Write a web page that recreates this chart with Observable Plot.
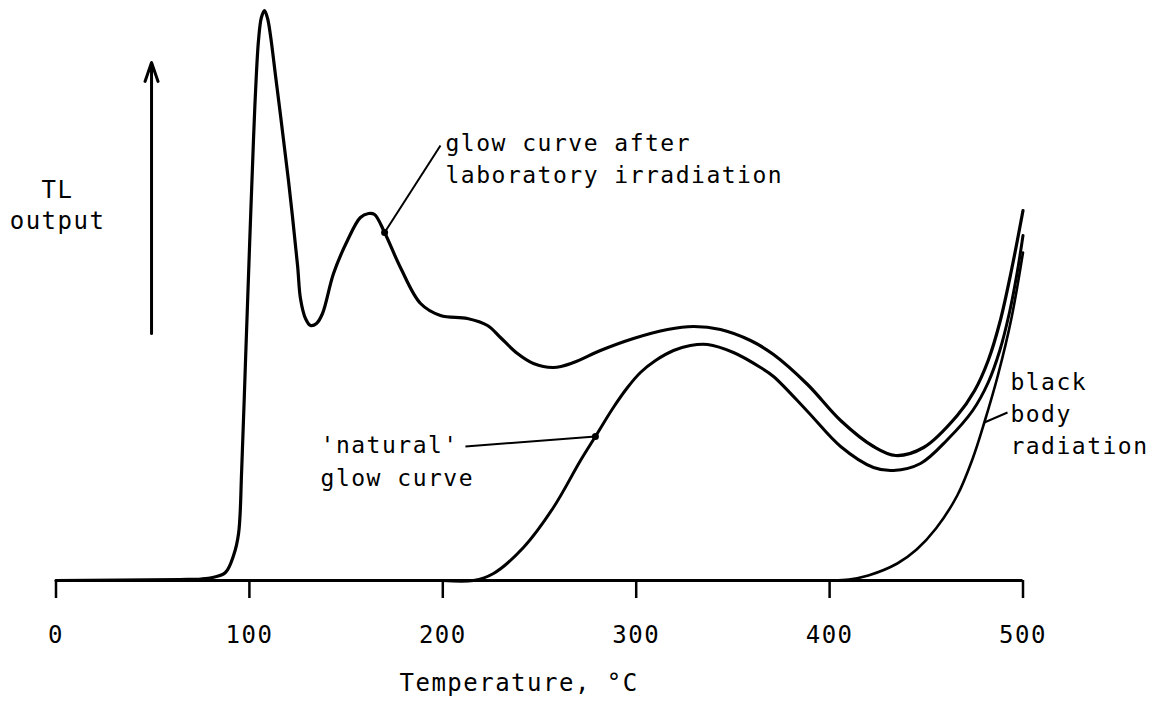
<!DOCTYPE html>
<html>
<head>
<meta charset="utf-8">
<script src="https://cdn.jsdelivr.net/npm/d3@7"></script>
<script src="https://cdn.jsdelivr.net/npm/@observablehq/plot@0.6"></script>
<style>
  html, body { margin: 0; padding: 0; background: #fff; }
  #chart svg { display: block; }
</style>
</head>
<body>
<div id="chart"></div>
<script>
// Temperature (°C) and TL output (arbitrary units)
const labTemp = [0, 64, 75, 81, 87.6, 91.8, 94.4, 96, 98, 100, 102.1, 103.2, 104.7, 106.2, 107.8, 109.4, 110.9, 113.5, 116.1, 120.2, 124.9, 126.4, 129, 131.6, 134.7, 137.8, 143.5, 150.7, 157.4, 161.6, 164.7, 169.9, 178.1, 188.5, 198.8, 212.7, 223.1, 229.8, 238.6, 246.9, 257.2, 267.6, 281.5, 298.6, 316.2, 329.6, 343.6, 359.1, 371, 388.6, 405.7, 422.7, 434.1, 448.6, 466, 475, 482, 488, 494, 500];
const labTL   = [0, 1, 1.5, 3, 8, 25, 47, 110, 220, 330, 440, 490, 540, 563, 570, 562, 545, 505, 465, 400, 315, 282, 262, 255, 257, 267, 307, 340, 363, 367, 366, 348, 313, 277, 265, 262, 255, 243, 227, 217, 213, 218, 230, 242, 251, 254, 251, 240, 226, 196, 160, 134, 125, 133, 165, 190, 220, 258, 310, 370];

const natTemp = [200, 215.9, 226.2, 241.7, 257.2, 271.2, 278.9, 288.2, 295.5, 302.2, 310, 319.3, 328, 336.9, 350.3, 364.3, 371, 388.6, 405.7, 422.7, 433, 447, 461, 474, 482, 488, 493, 497, 500];
const natTL   = [0, 0, 7, 33, 73, 120, 144, 173, 193, 208, 220, 230, 235, 236, 228, 213, 204, 169, 134, 113, 110, 117, 141, 170, 198, 230, 268, 308, 345];

const bbTemp = [380, 400, 410, 420, 435, 445, 455, 466, 474, 480, 487, 494, 500];
const bbTL   = [0, 0, 1, 5, 17, 31, 52, 85, 122, 158, 205, 262, 328];

const tickValues = [0, 100, 200, 300, 400, 500];
const xLabel = "Temperature, °C";
const yLabel = "TL\noutput";

// annotation texts and their leader lines (temperature, TL)
const noteTexts = ["glow curve after\nlaboratory irradiation", "'natural'\nglow curve", "black\nbody\nradiation"];
const noteTemp  = [201.4, 136.8, 493.5];
const noteTL    = [398, 95, 127];
const noteLineH = [1.39, 1.43, 1.37];
const leaderT1 = [169.9, 278.9, 480];
const leaderV1 = [348, 144, 158];
const leaderT2 = [198.8, 211.7, 492];
const leaderV2 = [435, 134, 168];
const leaderDot = [true, true, false];

// the up arrow standing for the TL axis
const arrowT = [49.4];
const arrowV1 = [247];
const arrowV2 = [518];

const lab = labTemp.map((t, i) => ({t, v: labTL[i]}));
const nat = natTemp.map((t, i) => ({t, v: natTL[i]}));
const bb  = bbTemp.map((t, i) => ({t, v: bbTL[i]}));
const notes = noteTexts.map((s, i) => ({s, t: noteTemp[i], v: noteTL[i], lh: noteLineH[i]}));
const leaders = leaderT1.map((t, i) => ({t1: t, v1: leaderV1[i], t2: leaderT2[i], v2: leaderV2[i], dot: leaderDot[i]}));
const arrows = arrowT.map((t, i) => ({t, v1: arrowV1[i], v2: arrowV2[i]}));

const FONT = "DejaVu Sans Mono";

const chart = Plot.plot({
  width: 1168,
  height: 702,
  marginLeft: 55.5,
  marginRight: 145.5,
  marginTop: 0,
  marginBottom: 122,
  style: {background: "#fff", color: "#000", fontFamily: FONT},
  x: {domain: [0, 500], axis: null},
  y: {domain: [0, 580], axis: null},
  marks: [
    Plot.ruleY([0], {stroke: "#000", strokeWidth: 3}),
    Plot.axisX({ticks: tickValues, tickSize: 18, tickPadding: 27, strokeWidth: 2.5, fontSize: 24, label: null, tickFormat: d => String(d)}),
    Plot.text([xLabel], {x: 177.6, y: -110, text: d => d, textAnchor: "start", lineAnchor: "bottom", fontSize: 24}),
    Plot.text([yLabel], {x: 0.8, y: 352, text: d => d, textAnchor: "middle", lineAnchor: "bottom", lineHeight: 1.29, fontSize: 24}),
    Plot.arrow(arrows, {x1: "t", y1: "v1", x2: "t", y2: "v2", stroke: "#000", strokeWidth: 3, headLength: 10, headAngle: 38, bend: 0}),
    Plot.line(lab, {x: "t", y: "v", curve: "catmull-rom", stroke: "#000", strokeWidth: 3.2, strokeLinejoin: "round"}),
    Plot.line(nat, {x: "t", y: "v", curve: "catmull-rom", stroke: "#000", strokeWidth: 3, strokeLinejoin: "round"}),
    Plot.line(bb,  {x: "t", y: "v", curve: "catmull-rom", stroke: "#000", strokeWidth: 2.6, strokeLinejoin: "round"}),
    Plot.link(leaders, {x1: "t1", y1: "v1", x2: "t2", y2: "v2", stroke: "#000", strokeWidth: 2}),
    Plot.dot(leaders.filter(d => d.dot), {x: "t1", y: "v1", r: 3.5, fill: "#000"}),
    ...notes.map(n => Plot.text([n], {x: "t", y: "v", text: "s", textAnchor: "start", lineAnchor: "bottom", lineHeight: n.lh, fontSize: 23}))
  ]
});
chart.querySelectorAll("text").forEach(t => t.setAttribute("letter-spacing", "1.5"));
document.getElementById("chart").appendChild(chart);
</script>
</body>
</html>
